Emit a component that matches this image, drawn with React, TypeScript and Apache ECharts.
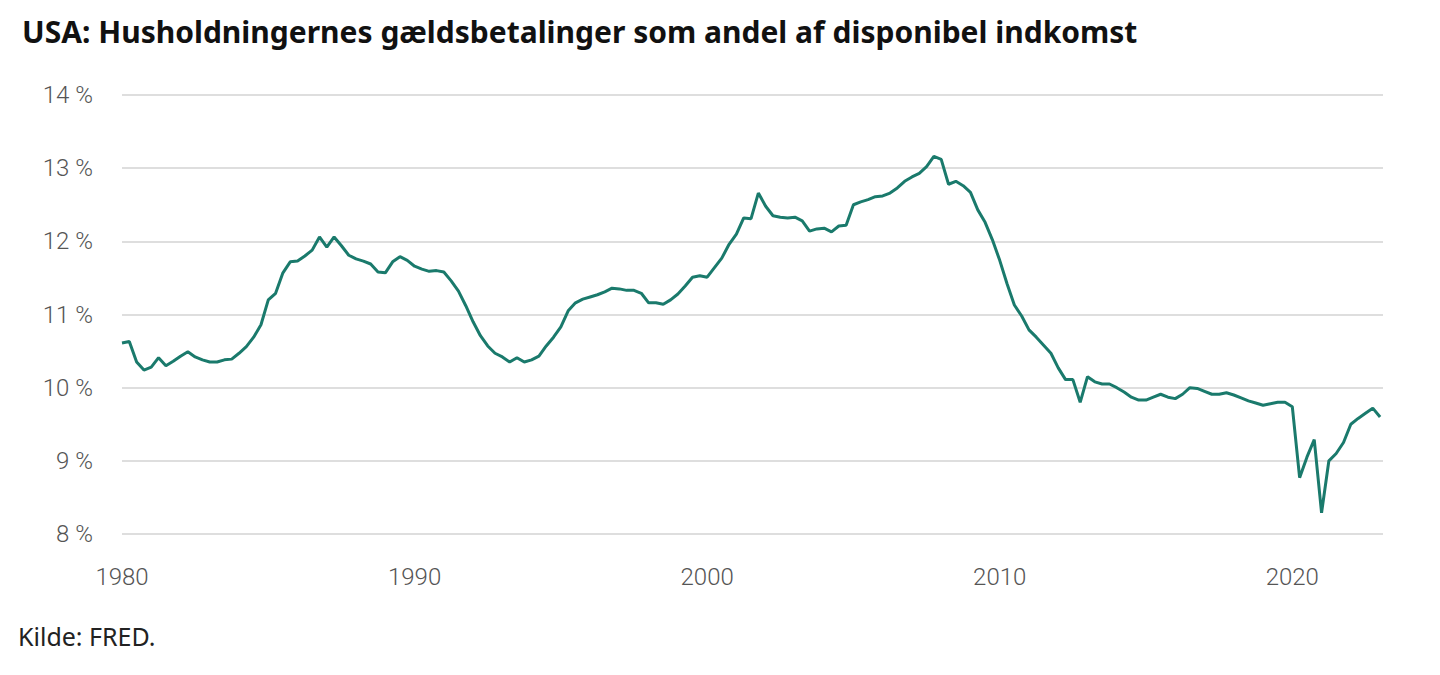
import React, { useEffect, useRef } from "react";
import * as echarts from "echarts";

const title = "USA: Husholdningernes gældsbetalinger som andel af disponibel indkomst";
const source = "Kilde: FRED.";

const startYear = 1980;
// Quarterly values, 1980 Q1 – 2023 Q1 (percent of disposable income)
const values: number[] = [
  10.61, 10.63, 10.35, 10.24,
  10.28, 10.41, 10.30, 10.36,
  10.43, 10.49, 10.42, 10.38,
  10.35, 10.35, 10.38, 10.39,
  10.47, 10.56, 10.69, 10.86,
  11.20, 11.29, 11.57, 11.72,
  11.73, 11.80, 11.88, 12.06,
  11.92, 12.06, 11.94, 11.81,
  11.76, 11.73, 11.69, 11.58,
  11.57, 11.72, 11.79, 11.74,
  11.66, 11.62, 11.59, 11.60,
  11.58, 11.46, 11.32, 11.12,
  10.90, 10.71, 10.57, 10.47,
  10.42, 10.35, 10.41, 10.35,
  10.38, 10.43, 10.57, 10.69,
  10.83, 11.05, 11.16, 11.21,
  11.24, 11.27, 11.31, 11.36,
  11.35, 11.33, 11.33, 11.29,
  11.16, 11.16, 11.14, 11.20,
  11.28, 11.39, 11.51, 11.53,
  11.51, 11.64, 11.77, 11.96,
  12.10, 12.32, 12.31, 12.66,
  12.48, 12.35, 12.33, 12.32,
  12.33, 12.28, 12.14, 12.17,
  12.18, 12.13, 12.21, 12.22,
  12.50, 12.54, 12.57, 12.61,
  12.62, 12.66, 12.73, 12.82,
  12.88, 12.93, 13.02, 13.16,
  13.12, 12.78, 12.82, 12.76,
  12.67, 12.43, 12.26, 12.02,
  11.74, 11.42, 11.13, 10.98,
  10.79, 10.69, 10.58, 10.47,
  10.27, 10.11, 10.11, 9.80,
  10.15, 10.08, 10.05, 10.05,
  10.00, 9.94, 9.87, 9.83,
  9.83, 9.87, 9.91, 9.87,
  9.85, 9.91, 10.00, 9.99,
  9.95, 9.91, 9.91, 9.93,
  9.90, 9.86, 9.82, 9.79,
  9.76, 9.78, 9.80, 9.80,
  9.74, 8.77, 9.05, 9.29,
  8.29, 9.00, 9.10, 9.25,
  9.50, 9.58, 9.65, 9.72,
  9.60,
];

const yTicks = [8, 9, 10, 11, 12, 13, 14];
const xTickYears = [1980, 1990, 2000, 2010, 2020];

export default function App() {
  const ref = useRef<HTMLDivElement>(null);
  useEffect(() => {
    if (!ref.current) return;
    const chart = echarts.init(ref.current, null, { renderer: "svg" });
    const data = values.map((v, i) => [startYear + i * 0.25, v]);
    chart.setOption({
      animation: false,
      backgroundColor: "#ffffff",
      title: {
        text: title,
        left: 17,
        top: 11,
        textStyle: {
          fontFamily: "Noto Sans",
          fontWeight: "bold",
          fontSize: 30,
          color: "#111111",
        },
      },
      grid: { left: 122, right: 57, top: 95, bottom: 141 },
      xAxis: {
        type: "value",
        min: 1980,
        max: 2023.1,
        interval: 10,
        axisLine: { show: false },
        axisTick: { show: false },
        splitLine: { show: false },
        axisLabel: {
          margin: 31,
          color: "#555555",
          fontFamily: "Roboto",
          fontWeight: 300,
          fontSize: 24,
          showMaxLabel: false,
          formatter: (v: number) => (xTickYears.includes(v) ? String(v) : ""),
        },
      },
      yAxis: {
        type: "value",
        min: yTicks[0],
        max: yTicks[yTicks.length - 1],
        interval: 1,
        axisLine: { show: false },
        axisTick: { show: false },
        splitLine: { lineStyle: { color: "#dedede", width: 2 } },
        axisLabel: {
          margin: 29,
          color: "#555555",
          fontFamily: "Roboto",
          fontWeight: 300,
          fontSize: 24,
          formatter: (v: number) => `${v} %`,
        },
      },
      series: [
        {
          type: "line",
          data,
          symbol: "none",
          lineStyle: { color: "#1a7a6c", width: 3 },
        },
      ],
      graphic: [
        {
          type: "text",
          left: 18,
          top: 623,
          style: {
            text: source,
            fontFamily: "Noto Sans",
            fontSize: 25,
            fill: "#222222",
          },
        },
      ],
    });
    return () => chart.dispose();
  }, []);
  return (
    <div
      ref={ref}
      style={{ position: "fixed", left: 0, top: 0, width: 1440, height: 675 }}
    />
  );
}
